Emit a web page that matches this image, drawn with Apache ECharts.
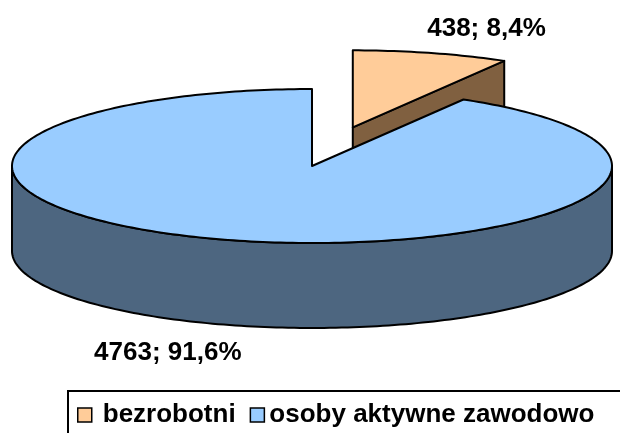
<!DOCTYPE html>
<html>
<head>
<meta charset="utf-8">
<title>Bezrobotni i osoby aktywne zawodowo</title>
<script src="https://cdn.jsdelivr.net/npm/echarts@6.0.0/dist/echarts.min.js"></script>
<style>
    html, body { margin: 0; padding: 0; background: #fff; }
    #chart { width: 620px; height: 433px; }
</style>
</head>
<body>
<div id="chart"></div>
<script>
    // dane
    const categories = ['bezrobotni', 'osoby aktywne zawodowo'];
    const values = [438, 4763];
    const topColors = ['#FFCC99', '#99CCFF'];
    const sideColors = ['#806040', '#4D6680'];
    const exploded = [true, false];

    // geometria "3D" tortu
    const cx = 312, cy = 166, rx = 300, ry = 77, depth = 85;
    const explodeK = 0.52;
    const font = 'bold 26px "Liberation Sans", Arial, sans-serif';
    const total = values.reduce((a, b) => a + b, 0);

    function pt(c, a, k, dy) {
        return [c[0] + Math.sin(a) * rx * k, c[1] - Math.cos(a) * ry * k + (dy || 0)];
    }
    function arc(c, a0, a1, dy) {
        const n = Math.max(2, Math.ceil(Math.abs(a1 - a0) / 0.02));
        const pts = [];
        for (let i = 0; i <= n; i++) pts.push(pt(c, a0 + (a1 - a0) * i / n, 1, dy));
        return pts;
    }
    function fmt(v) {
        return v + '; ' + (v / total * 100).toFixed(1).replace('.', ',') + '%';
    }

    function renderSlice(idx) {
        return function (params, api) {
            const v = api.value(0);
            let before = 0;
            for (let i = 0; i < idx; i++) before += values[i];
            const a0 = before / total * Math.PI * 2;
            const a1 = (before + v) / total * Math.PI * 2;
            const mid = (a0 + a1) / 2;
            let c = [cx, cy];
            if (exploded[idx]) c = pt(c, mid, explodeK);
            const line = { stroke: '#000', lineWidth: 2, lineJoin: 'round' };
            const side = Object.assign({ fill: sideColors[idx] }, line);
            const kids = [];

            // sciana zewnetrzna (tylko przednia polowa)
            const s = Math.max(a0, Math.PI / 2), e = Math.min(a1, Math.PI * 3 / 2);
            if (s < e) {
                const pts = arc(c, s, e, 0).concat(arc(c, e, s, depth));
                kids.push({ type: 'polygon', z2: 1, shape: { points: pts }, style: side });
            }
            // sciany promieniowe widoczne z przodu
            [[a1, Math.sin(a1) > 1e-6], [a0, Math.sin(a0) < -1e-6]].forEach(function (w) {
                if (!w[1]) return;
                const p = pt(c, w[0], 1);
                kids.push({
                    type: 'polygon', z2: 2,
                    shape: { points: [c, p, [p[0], p[1] + depth], [c[0], c[1] + depth]] },
                    style: side
                });
            });
            // gorna powierzchnia
            kids.push({
                type: 'polygon', z2: 10,
                shape: { points: [c].concat(arc(c, a0, a1, 0)) },
                style: Object.assign({ fill: topColors[idx] }, line)
            });
            // etykieta przy krawedzi, na zewnatrz
            const front = Math.cos(mid) < 0;
            const right = Math.sin(mid) > 0;
            const ep = pt(c, mid, 1, front ? depth : 0);
            kids.push({
                type: 'text', z2: 20,
                style: {
                    x: ep[0] + (right ? -4 : 8),
                    y: ep[1] + (front ? 28 : -24),
                    text: fmt(v), font: font, fill: '#000',
                    align: right ? 'left' : 'right', verticalAlign: 'middle'
                }
            });
            return { type: 'group', children: kids };
        };
    }

    const chart = echarts.init(document.getElementById('chart'));
    chart.setOption({
        animation: false,
        legend: {
            left: 68,
            top: 391,
            width: 600,
            icon: 'rect',
            itemWidth: 14,
            itemHeight: 14,
            itemGap: 14,
            padding: [11, 60, 60, 9],
            borderColor: '#000',
            borderWidth: 2,
            itemStyle: { borderColor: '#000', borderWidth: 1.5 },
            textStyle: { fontSize: 26, fontWeight: 'bold', color: '#000', fontFamily: '"Liberation Sans", Arial, sans-serif' },
            data: [
                { name: categories[0], textStyle: { padding: [0, 0, 0, 6] } },
                { name: categories[1] }
            ]
        },
        series: categories.map(function (name, i) {
            return {
                type: 'custom',
                name: name,
                coordinateSystem: 'none',
                itemStyle: { color: topColors[i] },
                renderItem: renderSlice(i),
                data: [[values[i]]]
            };
        })
    });
</script>
</body>
</html>
